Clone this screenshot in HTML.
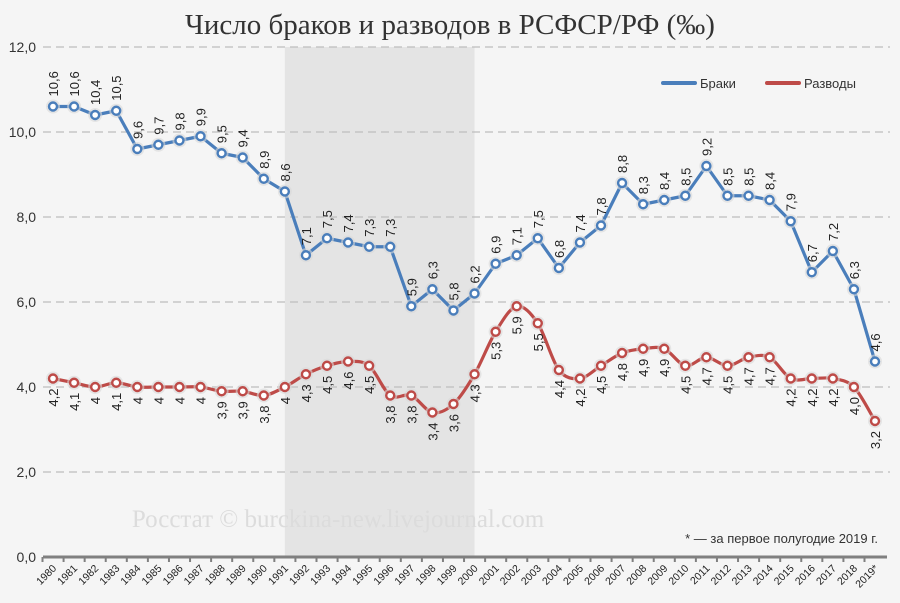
<!DOCTYPE html>
<html><head><meta charset="utf-8">
<style>
body{margin:0;background:#f5f5f5;}
svg{display:block;font-family:"Liberation Sans","DejaVu Sans",sans-serif;}
</style></head>
<body>
<svg id="chart" width="900" height="603" viewBox="0 0 900 603" xmlns="http://www.w3.org/2000/svg">
<rect width="900" height="603" fill="#f5f5f5"/>
<g id="shade"></g>
<g id="grid"></g>
<text x="450" y="34" text-anchor="middle" font-family="Liberation Serif, DejaVu Serif, serif" font-size="29" fill="#333">Число браков и разводов в РСФСР/РФ (‰)</text>
<text x="338" y="527" text-anchor="middle" font-family="Liberation Serif, DejaVu Serif, serif" font-size="25" fill="#dcdcdc">Росстат © burckina-new.livejournal.com</text>
<text x="878" y="543" text-anchor="end" font-size="13" fill="#333">* — за первое полугодие 2019 г.</text>
<g>
<line x1="663" y1="83" x2="695" y2="83" stroke="#4a7ebb" stroke-width="4" stroke-linecap="round"/>
<text x="700" y="88" font-size="13" fill="#333">Браки</text>
<line x1="767" y1="83" x2="799" y2="83" stroke="#be4b48" stroke-width="4" stroke-linecap="round"/>
<text x="804" y="88" font-size="13" fill="#333">Разводы</text>
</g>
<g id="axes"></g>
<g id="series"></g>
</svg>
<script>
const years=["1980","1981","1982","1983","1984","1985","1986","1987","1988","1989","1990","1991","1992","1993","1994","1995","1996","1997","1998","1999","2000","2001","2002","2003","2004","2005","2006","2007","2008","2009","2010","2011","2012","2013","2014","2015","2016","2017","2018","2019*"];
const marriages=[10.6,10.6,10.4,10.5,9.6,9.7,9.8,9.9,9.5,9.4,8.9,8.6,7.1,7.5,7.4,7.3,7.3,5.9,6.3,5.8,6.2,6.9,7.1,7.5,6.8,7.4,7.8,8.8,8.3,8.4,8.5,9.2,8.5,8.5,8.4,7.9,6.7,7.2,6.3,4.6];
const divorces=[4.2,4.1,4,4.1,4,4,4,4,3.9,3.9,3.8,4,4.3,4.5,4.6,4.5,3.8,3.8,3.4,3.6,4.3,5.3,5.9,5.5,4.4,4.2,4.5,4.8,4.9,4.9,4.5,4.7,4.5,4.7,4.7,4.2,4.2,4.2,4.0,3.2];
const marriageLabels=["10,6","10,6","10,4","10,5","9,6","9,7","9,8","9,9","9,5","9,4","8,9","8,6","7,1","7,5","7,4","7,3","7,3","5,9","6,3","5,8","6,2","6,9","7,1","7,5","6,8","7,4","7,8","8,8","8,3","8,4","8,5","9,2","8,5","8,5","8,4","7,9","6,7","7,2","6,3","4,6"];
const divorceLabels=["4,2","4,1","4","4,1","4","4","4","4","3,9","3,9","3,8","4","4,3","4,5","4,6","4,5","3,8","3,8","3,4","3,6","4,3","5,3","5,9","5,5","4,4","4,2","4,5","4,8","4,9","4,9","4,5","4,7","4,5","4,7","4,7","4,2","4,2","4,2","4,0","3,2"];
const yTicks=[0,2,4,6,8,10,12];
const yTickLabels=["0,0","2,0","4,0","6,0","8,0","10,0","12,0"];
const shadeStart="1991", shadeEnd="2000";

const NS="http://www.w3.org/2000/svg";
const x0=53,x1=875,yBase=557,yTop=47,yMax=12;
const X=i=>x0+i*(x1-x0)/(years.length-1);
const Y=v=>yBase-(v/yMax)*(yBase-yTop);
function mk(tag,attrs,parent){const e=document.createElementNS(NS,tag);for(const k in attrs)e.setAttribute(k,attrs[k]);parent.appendChild(e);return e;}
const gShade=document.getElementById('shade'),gGrid=document.getElementById('grid'),gAx=document.getElementById('axes'),gS=document.getElementById('series');

const sx=X(years.indexOf(shadeStart)),ex=X(years.indexOf(shadeEnd));
const sr=mk('rect',{x:sx,y:yTop,width:ex-sx,height:yBase-yTop,fill:'#e4e4e4'},gShade);



yTicks.forEach((t,i)=>{
  if(t>0){const l=mk('line',{x1:43,x2:890,y1:Y(t),y2:Y(t),stroke:'#bdbdbd','stroke-width':1.3,'stroke-dasharray':'8,5'},gGrid);
  
  }
  const tx=mk('text',{x:36,y:Y(t)+5,'text-anchor':'end','font-size':14,fill:'#333'},gAx);tx.textContent=yTickLabels[i];
  
  
});
const ax=mk('line',{x1:43,x2:887,y1:yBase,y2:yBase,stroke:'#808080','stroke-width':3},gAx);


years.forEach((yr,i)=>{
  const tk=mk('line',{x1:X(i)-10.5,x2:X(i)-10.5,y1:yBase,y2:yBase+5,stroke:'#808080','stroke-width':2},gAx);
  
  
  const t=mk('text',{x:X(i)+4,y:yBase+12,'text-anchor':'end','font-size':10.5,fill:'#222',transform:`rotate(-45 ${X(i)+4} ${yBase+12})`},gAx);t.textContent=yr;
  
  
});

function smooth(pts){let d=`M${pts[0][0]},${pts[0][1]}`;for(let i=0;i<pts.length-1;i++){const p0=pts[i-1]||pts[i],p1=pts[i],p2=pts[i+1],p3=pts[i+2]||p2;const t=0.16;d+=` C${p1[0]+(p2[0]-p0[0])*t},${p1[1]+(p2[1]-p0[1])*t} ${p2[0]-(p3[0]-p1[0])*t},${p2[1]-(p3[1]-p1[1])*t} ${p2[0]},${p2[1]}`;}return d;}
function series(vals,labels,color,name,above,curved){
  const g=mk('g',{},gS);
  
  
  const pts=vals.map((v,i)=>[X(i),Y(v)]);
  const d=curved?smooth(pts):'M'+pts.map(p=>p.join(',')).join(' L');
  const p=mk('path',{d:d,fill:'none',stroke:color,'stroke-width':3.2,'stroke-linejoin':'round'},g);
  
  
  pts.forEach((pt,i)=>{
    const h=mk('circle',{cx:pt[0],cy:pt[1],r:7,fill:'#d8d8d8',opacity:0.6},g);
    
    
    const c=mk('circle',{cx:pt[0],cy:pt[1],r:4,fill:'#fff',stroke:color,'stroke-width':2.4},g);
    
    
    const lx=pt[0]+5, ly=above?pt[1]-10:pt[1]+10;
    const t=mk('text',{x:lx,y:ly,'text-anchor':above?'start':'end','font-size':13,fill:'#222',transform:`rotate(-90 ${lx} ${ly})`},g);
    t.textContent=labels[i];
    
    
  });
}
series(marriages,marriageLabels,'#4a7ebb','marriages',true,false);
series(divorces,divorceLabels,'#be4b48','divorces',false,true);
</script>
</body></html>
